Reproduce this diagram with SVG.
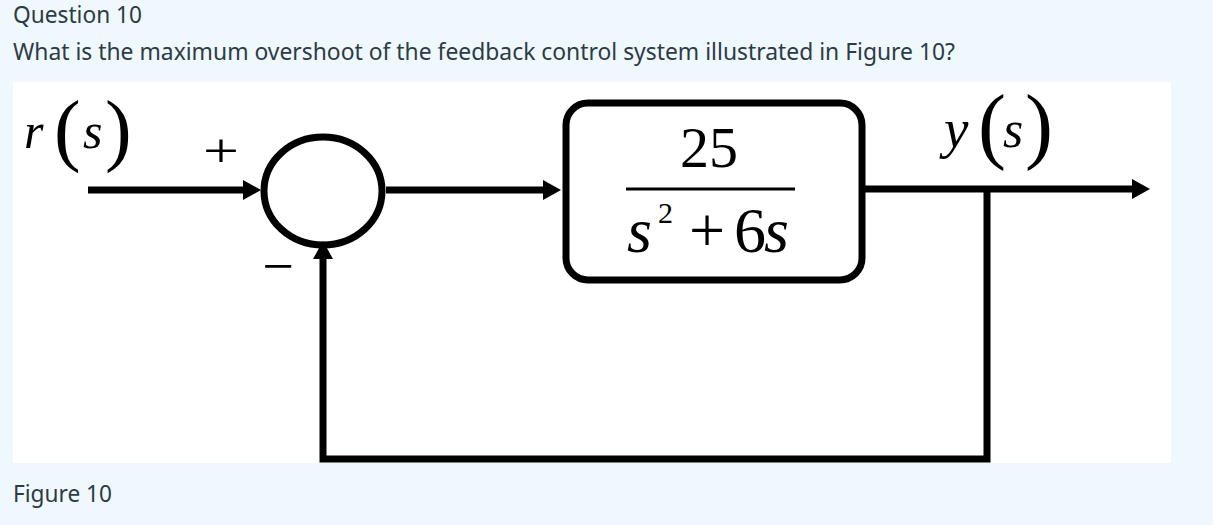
<svg xmlns="http://www.w3.org/2000/svg" width="1213" height="525" viewBox="0 0 1213 525">
<style>
.ui{font-family:"Noto Sans","Open Sans","DejaVu Sans",sans-serif;font-size:23px;fill:#2d3b45}
.m{font-family:"Liberation Serif","Times New Roman",serif;fill:#000}
.i{font-style:italic}
.ln{fill:none;stroke:#000;stroke-width:7}
</style>
<defs>
<marker id="ah" markerUnits="userSpaceOnUse" markerWidth="20" markerHeight="22" viewBox="0 -11 20 22" refX="0" refY="0" orient="auto">
<path d="M0,-10 L18,0 L0,10 z" fill="#000"/>
</marker>
</defs>
<rect width="1213" height="525" fill="#eff8fc"/>
<rect x="13" y="82" width="1158" height="381" fill="#fff"/>
<g id="header">
<text class="ui" x="13" y="23" textLength="129" lengthAdjust="spacingAndGlyphs">Question 10</text>
<text class="ui" x="13" y="60" textLength="942" lengthAdjust="spacingAndGlyphs">What is the maximum overshoot of the feedback control system illustrated in Figure 10?</text>
<text class="ui" x="13" y="502" textLength="99" lengthAdjust="spacingAndGlyphs">Figure 10</text>
</g>
<g id="connectors">
<line class="ln" x1="88" y1="190" x2="243" y2="190" marker-end="url(#ah)"/>
<line class="ln" x1="386" y1="190" x2="543" y2="190" marker-end="url(#ah)"/>
<line class="ln" x1="865" y1="189" x2="1132" y2="189" marker-end="url(#ah)"/>
<polyline class="ln" points="987,189 987,459 323,459 323,259" marker-end="url(#ah)"/>
</g>
<g id="input-label">
<text class="m" y="148" font-size="50"><tspan class="i" x="24">r</tspan><tspan x="54" y="156" font-size="80">(</tspan><tspan class="i" x="83" y="148">s</tspan><tspan x="105" y="156" font-size="80">)</tspan></text>
</g>
<g id="summing-junction">
<ellipse class="ln" cx="323" cy="191" rx="59" ry="54"/>
<text class="m" x="0" y="167" font-size="48" text-anchor="middle" transform="translate(221,0) scale(1.33,1)">+</text>
<text class="m" x="278" y="285" font-size="56" text-anchor="middle">−</text>
</g>
<g id="plant">
<rect class="ln" x="566" y="103" width="296" height="177" rx="22"/>
<text class="m" x="709" y="167" font-size="58" text-anchor="middle">25</text>
<line x1="626" y1="189" x2="795" y2="189" stroke="#000" stroke-width="3"/>
<text class="m" y="252" font-size="64"><tspan class="i" x="627">s</tspan><tspan x="658" y="223" font-size="30">2</tspan><tspan x="689" y="252">+</tspan><tspan x="734">6</tspan><tspan class="i" x="764">s</tspan></text>
</g>
<g id="output-label">
<text class="m" y="147" font-size="55"><tspan class="i" x="944">y</tspan><tspan x="978" y="153" font-size="84">(</tspan><tspan class="i" x="1003" y="147" font-size="52">s</tspan><tspan x="1025" y="153" font-size="84">)</tspan></text>
</g>
</svg>
